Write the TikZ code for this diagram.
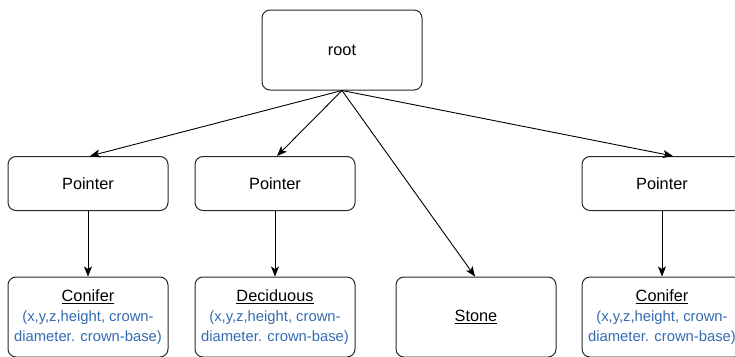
\documentclass[tikz,border=0pt]{standalone}
\usepackage{fontspec}
\setmainfont{Liberation Sans}
\usetikzlibrary{arrows.meta}
\definecolor{txtblue}{RGB}{52,106,178}
\definecolor{edge}{RGB}{40,40,40}
\tikzset{
  box/.style={draw=edge, line width=1pt, rounded corners=8pt, minimum width=160pt, align=center, inner sep=0pt, font=\fontsize{16.3}{19}\selectfont},
  topbox/.style={box, minimum height=80pt},
  ptrbox/.style={box, minimum height=54pt},
  leafbox/.style={box, minimum height=80pt},
  conn/.style={draw=black, line width=0.9pt, -{Stealth[length=10pt,width=8pt,inset=2.5pt]}},
}
\newcommand{\bluetxt}[1]{{\color{txtblue}\fontsize{14.8}{20}\selectfont #1}}
\begin{document}
\begin{tikzpicture}[x=1pt,y=-1pt]
\useasboundingbox (0,0) rectangle (735,356);
\node[topbox] (root) at (342,50) {root};
\node[ptrbox] (p1) at (88,183.5) {Pointer};
\node[ptrbox] (p2) at (275,183.5) {Pointer};
\node[ptrbox] (p4) at (662,183.5) {Pointer};
\node[leafbox] (c1) at (88,317) {\underline{Conifer}\\[1pt]\bluetxt{(x,y,z,height, crown-}\\[1pt]\bluetxt{diameter. crown-base)}};
\node[leafbox] (d) at (275,317) {\underline{Deciduous}\\[1pt]\bluetxt{(x,y,z,height, crown-}\\[1pt]\bluetxt{diameter. crown-base)}};
\node[leafbox] (s) at (476,317) {\underline{Stone}};
\node[leafbox] (c2) at (662,317) {\underline{Conifer}\\[1pt]\bluetxt{(x,y,z,height, crown-}\\[1pt]\bluetxt{diameter. crown-base)}};
\draw[conn] (root.south) -- ([xshift=2pt]p1.north);
\draw[conn] (root.south) -- ([xshift=2pt]p2.north);
\draw[conn] (root.south) -- ([xshift=-1pt]s.north);
\draw[conn] (root.south) -- ([xshift=11pt]p4.north);
\draw[conn] (p1.south) -- (c1.north);
\draw[conn] (p2.south) -- (d.north);
\draw[conn] (p4.south) -- (c2.north);
\end{tikzpicture}
\end{document}
